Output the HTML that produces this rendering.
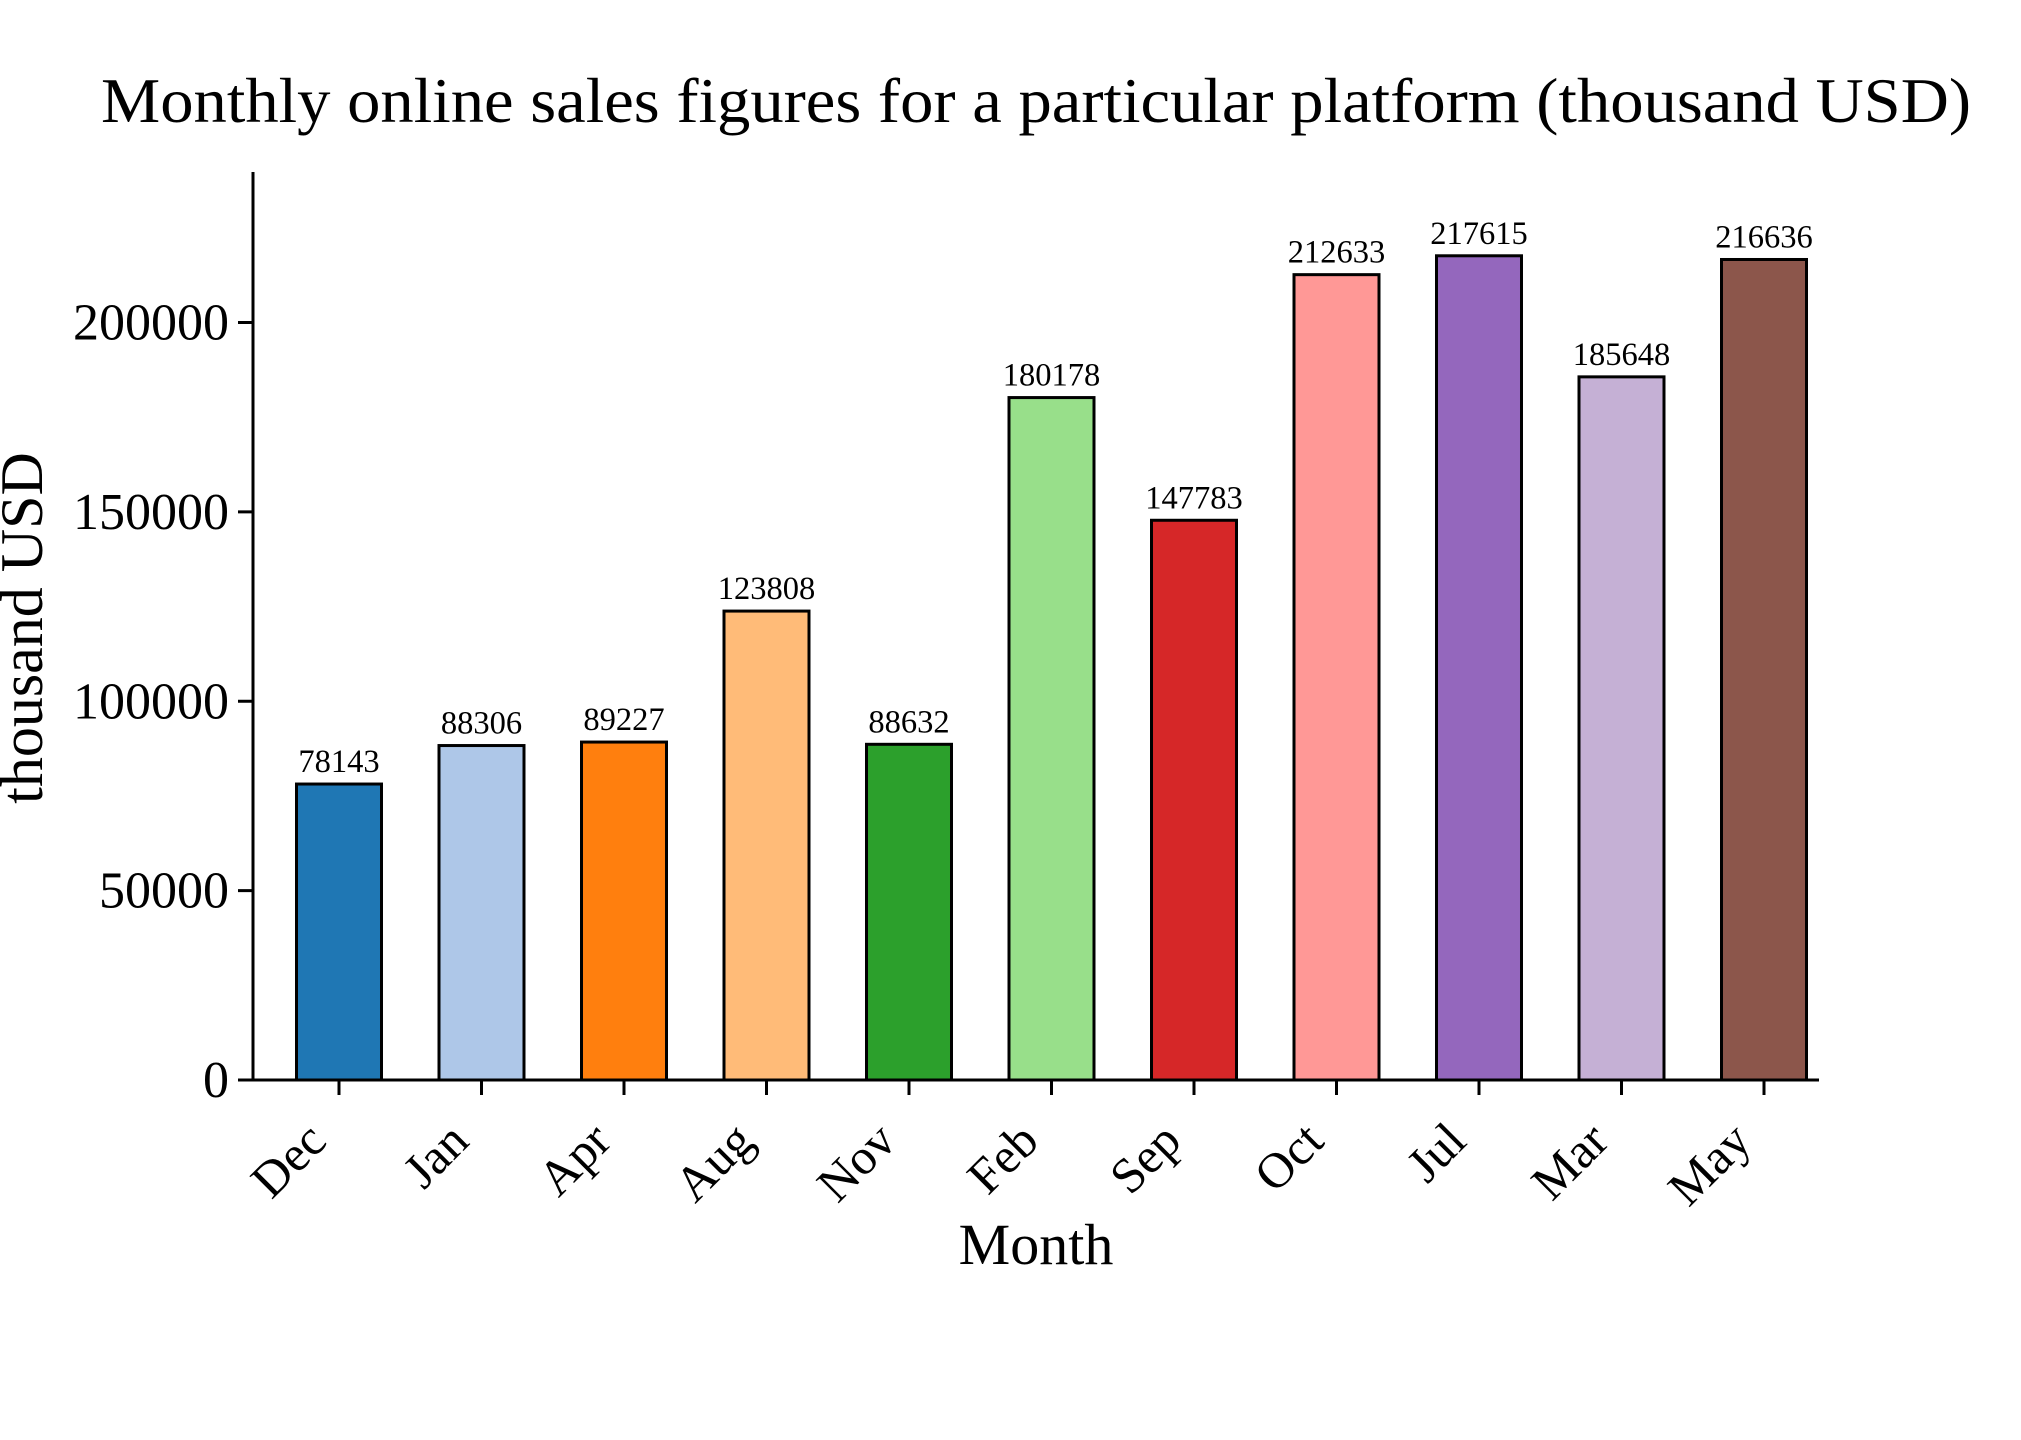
<!DOCTYPE html>
<html><head><meta charset="utf-8"><style>
body{margin:0;background:#fff}
svg{display:block;font-family:"Liberation Serif",serif}
</style></head><body>
<svg id="chart" width="2021" height="1440" viewBox="0 0 2021 1440">
<text x="1036" y="122" font-size="64" text-anchor="middle" textLength="1870" lengthAdjust="spacingAndGlyphs">Monthly online sales figures for a particular platform (thousand USD)</text>
<text transform="translate(42,628) rotate(-90)" font-size="60" text-anchor="middle">thousand USD</text>
<text x="1036" y="1264" font-size="58" text-anchor="middle">Month</text>
<g id="bars"></g>
<g id="axes"></g>
</svg>
<script>
const categories=["Dec","Jan","Apr","Aug","Nov","Feb","Sep","Oct","Jul","Mar","May"];
const values=[78143,88306,89227,123808,88632,180178,147783,212633,217615,185648,216636];
const colors=["#1f77b4","#aec7e8","#ff7f0e","#ffbb78","#2ca02c","#98df8a","#d62728","#ff9896","#9467bd","#c5b0d5","#8c564b"];
const yTicks=[0,50000,100000,150000,200000];
const NS="http://www.w3.org/2000/svg";
const L=253,R=1819,B=1080,T=172;
const y=v=>B-v*(757.5/200000);
const x=i=>339+i*142.5;
const bw=85;
function mk(tag,attrs,parent){const e=document.createElementNS(NS,tag);for(const k in attrs)e.setAttribute(k,attrs[k]);parent.appendChild(e);return e;}
const bars=document.getElementById('bars'),axes=document.getElementById('axes');
values.forEach((v,i)=>{
  const r=mk('rect',{x:x(i)-bw/2,y:y(v),width:bw,height:B-y(v),fill:colors[i],stroke:'#000','stroke-width':3},bars);
  
  
  const t=mk('text',{x:x(i),y:y(v)-12,'font-size':32.5,'text-anchor':'middle'},bars);
  t.textContent=v;
  
  
  const tk=mk('line',{x1:x(i),x2:x(i),y1:B,y2:B+15,stroke:'#000','stroke-width':3},axes);
  
  
  const lb=mk('text',{transform:`translate(${x(i)-36},${B+38}) rotate(-45)`,'font-size':50,'text-anchor':'end','dominant-baseline':'hanging'},axes);
  lb.textContent=categories[i];
  
  
});
yTicks.forEach(v=>{
  const tk=mk('line',{x1:L-15,x2:L,y1:y(v),y2:y(v),stroke:'#000','stroke-width':3},axes);
  
  
  const lb=mk('text',{x:L-24,y:y(v)+17,'font-size':52,'text-anchor':'end'},axes);
  lb.textContent=v;
  
  
});
const ya=mk('line',{x1:L,x2:L,y1:T,y2:B+1.5,stroke:'#000','stroke-width':3},axes);


const xa=mk('line',{x1:L-1.5,x2:R,y1:B,y2:B,stroke:'#000','stroke-width':3},axes);


</script>
</body></html>
